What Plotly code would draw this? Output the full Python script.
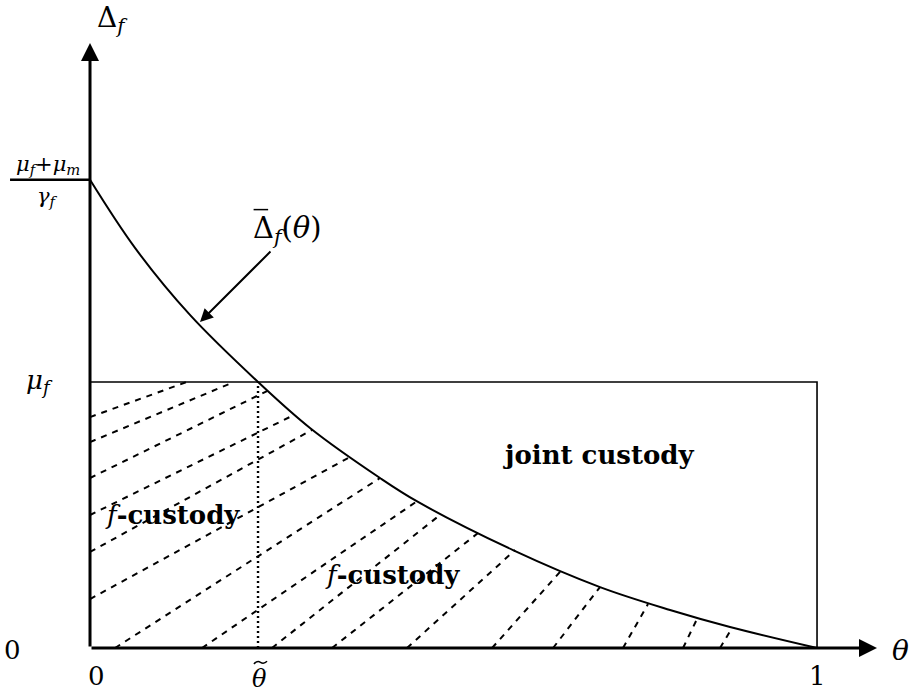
import plotly.graph_objects as go

# curve Delta_bar_f(theta) (mu_f = 1)
theta = [0.0, 0.0619, 0.1375, 0.2311, 0.3026, 0.3989, 0.4512, 0.5818, 0.7015, 0.7978, 0.8803, 1.0]
delta = [1.76, 1.504, 1.252, 1.0, 0.827, 0.639, 0.549, 0.368, 0.229, 0.143, 0.079, 0.0]

theta_tilde = 0.2311
mu_f = 1.0
top_value = 1.76

# dashed hatch segments: start (theta, delta) -> end (theta, delta)
h_t0 = [0, 0, 0, 0, 0, 0, 0.0344, 0.1541, 0.2503, 0.3329, 0.4360, 0.5530, 0.6369, 0.7331, 0.8157, 0.8666]
h_d0 = [0.868, 0.774, 0.639, 0.500, 0.361, 0.184, 0, 0, 0, 0, 0, 0, 0, 0, 0, 0]
h_t1 = [0.133, 0.198, 0.2435, 0.2806, 0.3054, 0.3576, 0.3989, 0.4484, 0.4814, 0.5337, 0.5846, 0.6465, 0.7015, 0.7675, 0.8349, 0.8831]
h_d1 = [1.0, 1.0, 0.966, 0.876, 0.820, 0.718, 0.639, 0.549, 0.500, 0.432, 0.368, 0.286, 0.229, 0.165, 0.109, 0.075]

serif = "DejaVu Serif"

fig = go.Figure()

# hatching
hx, hy = [], []
for a, b, c, d in zip(h_t0, h_d0, h_t1, h_d1):
    hx += [a, c, None]
    hy += [b, d, None]
fig.add_trace(go.Scatter(x=hx, y=hy, mode="lines",
                         line=dict(color="black", width=2, dash="6px,6px"),
                         hoverinfo="skip"))

# the curve
fig.add_trace(go.Scatter(x=theta, y=delta, mode="lines",
                         line=dict(color="black", width=2, shape="spline", smoothing=1.0),
                         hoverinfo="skip"))

# mu_f box
fig.add_trace(go.Scatter(x=[0, 1, 1], y=[mu_f, mu_f, 0], mode="lines",
                         line=dict(color="black", width=1.6), hoverinfo="skip"))

# dotted theta tilde
fig.add_trace(go.Scatter(x=[theta_tilde, theta_tilde], y=[0, mu_f], mode="lines",
                         line=dict(color="black", width=2.4, dash="2px,3px"),
                         hoverinfo="skip"))

# fraction bar / tick
fig.add_shape(type="line", x0=-0.110, x1=0, y0=top_value, y1=top_value,
              line=dict(color="black", width=2.5))

# axes with arrows
fig.add_annotation(x=0, y=2.274, ax=0, ay=0, xref="x", yref="y", axref="x", ayref="y",
                   text="", showarrow=True, arrowhead=2, arrowsize=1.2, arrowwidth=3,
                   arrowcolor="black", standoff=0)
fig.add_annotation(x=1.0825, y=0, ax=0, ay=0, xref="x", yref="y", axref="x", ayref="y",
                   text="", showarrow=True, arrowhead=2, arrowsize=1.2, arrowwidth=3,
                   arrowcolor="black", standoff=0)

# label arrow
fig.add_annotation(x=0.1513, y=1.2256, ax=0.2503, ay=1.496, xref="x", yref="y",
                   axref="x", ayref="y", text="", showarrow=True, arrowhead=2,
                   arrowsize=1.3, arrowwidth=2, arrowcolor="black", standoff=0)

def label(x, y, text, size=26, anchor="center"):
    fig.add_annotation(x=x, y=y, xref="x", yref="y", text=text, showarrow=False,
                       font=dict(family=serif, size=size, color="black"),
                       xanchor=anchor, yanchor="middle")

label(0.0316, 2.361, "Δ<sub><i>f</i></sub>", 28)
label(1.115, -0.008, "<i>θ</i>", 28)
label(-0.107, -0.008, "0", 26)
label(0.0096, -0.105, "0", 26)
label(1.0, -0.105, "1", 26)
label(0.233, -0.118, "<i>θ</i>", 24)
# tilde accent over theta
fig.add_shape(type="path",
              path="M 0.2255,-0.060 Q 0.2300,-0.046 0.2345,-0.054 T 0.2435,-0.050",
              line=dict(color="black", width=1.5))
label(-0.0688, 1.0, "<i>μ<sub>f</sub></i>", 26)
label(-0.058, 1.816, "<i>μ<sub>f</sub></i>+<i>μ<sub>m</sub></i>", 21)
label(-0.058, 1.695, "<i>γ<sub>f</sub></i>", 21)
label(0.2215, 1.572, "Δ<sub><i>f</i></sub>(<i>θ</i>)", 29, anchor="left")
fig.add_shape(type="line", x0=0.2250, x1=0.2450, y0=1.648, y1=1.648,
              line=dict(color="black", width=1.5))
label(0.699, 0.727, "<b>joint custody</b>", 26)
label(0.114, 0.500, "<i>f</i><b>-custody</b>", 26)
label(0.416, 0.275, "<i>f</i><b>-custody</b>", 26)

fig.update_layout(width=913, height=693, margin=dict(l=0, r=0, t=0, b=0),
                  paper_bgcolor="white", plot_bgcolor="white", showlegend=False,
                  xaxis=dict(range=[-0.1238, 1.1320], visible=False, fixedrange=True),
                  yaxis=dict(range=[-0.1692, 2.436], visible=False, fixedrange=True))

fig.write_html("out.html", config={"displayModeBar": False},
               post_script="document.body.style.margin='0';")
